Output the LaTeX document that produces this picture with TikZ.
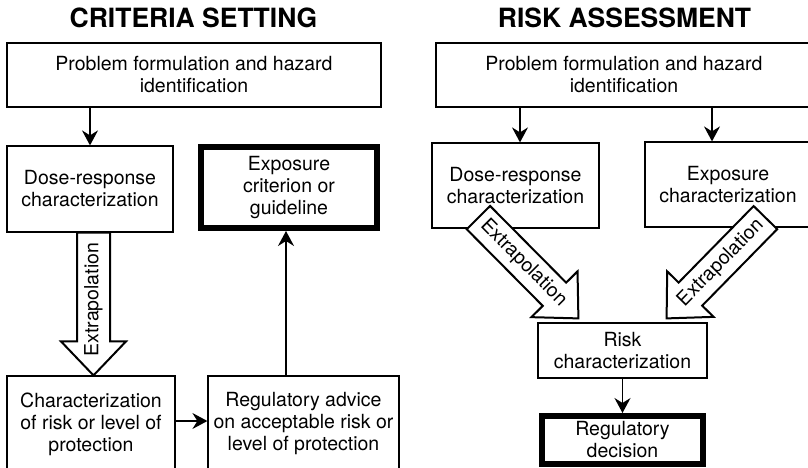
\documentclass[tikz,border=0pt]{standalone}
\usepackage{fontspec}
\setmainfont{TeX Gyre Heros}
\usetikzlibrary{arrows.meta,calc}

\tikzset{
  box/.style={draw, line width=1.2pt, align=center, inner sep=0pt,
              font=\fontsize{19.5}{22}\selectfont},
  keybox/.style={box, line width=6pt},
  heading/.style={font=\bfseries\fontsize{26.5}{30}\selectfont, anchor=base},
  flow/.style={-{Stealth[length=15pt,width=16pt,inset=5pt]}, line width=1.5pt},
  fatarrow/.style={draw, fill=white, line width=2pt, line join=miter},
  fatlabel/.style={font=\fontsize{19.5}{22}\selectfont, inner sep=0pt},
}

% Hollow block arrow from #1 (tail) to #2 (tip); #3 = options of its label
\newcommand\hollowarrow[3]{%
  \coordinate (ha-base) at ($(#2)!34pt!(#1)$);
  \filldraw[fatarrow]
    ($(#1)!16.5pt!90:(#2)$) -- ($(ha-base)!16.5pt!90:(#2)$)
    -- ($(ha-base)!32.5pt!90:(#2)$) -- (#2)
    -- ($(ha-base)!32.5pt!-90:(#2)$) -- ($(ha-base)!16.5pt!-90:(#2)$)
    -- ($(#1)!16.5pt!-90:(#2)$) -- cycle;
  \path (#1) -- (#2) node[fatlabel, #3] {Extrapolation};
}

\begin{document}
\begin{tikzpicture}[x=1pt,y=-1pt]
\useasboundingbox (0,0) rectangle (808,468);
\clip (0,0) rectangle (808,468);

% ---------------- Criteria setting ----------------
\node[heading] (titleL) at (193.5,28) {CRITERIA SETTING};

\node[box, minimum width=374pt, minimum height=64pt] (ltop) at (194,75)
  {Problem formulation and hazard\\identification};
\node[box, minimum width=166pt, minimum height=86pt] (ldose) at (90,189)
  {Dose-response\\characterization};
\node[keybox, minimum width=176pt, minimum height=81pt] (lexpo) at (289,187.5)
  {Exposure\\criterion or\\guideline};
\node[box, minimum width=168pt, minimum height=96pt] (lchar) at (91,424)
  {Characterization\\of risk or level of\\protection};
\node[box, minimum width=191pt, minimum height=96pt] (ladv) at (303.5,424)
  {Regulatory advice\\on acceptable risk or\\level of protection};

\draw[flow] (ldose.north |- ltop.south) -- (ldose.north);

\coordinate (lfatA) at ([xshift=3.5pt]ldose.south);
\coordinate (lfatB) at (lfatA |- lchar.north);
\hollowarrow{lfatA}{lfatB}{pos=.47, rotate=90}

\coordinate (ladvA) at ([yshift=3pt]lchar.east);
\draw[flow] (ladvA) -- (ladvA -| ladv.west);

\coordinate (lupB) at ([xshift=-3pt]lexpo.south);
\draw[flow] (lupB |- ladv.north) -- (lupB);

% ---------------- Risk assessment ----------------
\node[heading] (titleR) at (624.5,28) {RISK ASSESSMENT};

\node[box, minimum width=376pt, minimum height=64pt] (rtop) at (624,75)
  {Problem formulation and hazard\\identification};
\node[box, minimum width=167pt, minimum height=85pt] (rdose) at (515.5,185.5)
  {Dose-response\\characterization};
\node[box, minimum width=166pt, minimum height=85pt] (rexp) at (728,184.5)
  {Exposure\\characterization};
\node[box, minimum width=169pt, minimum height=55pt] (rrisk) at (622.5,350.5)
  {Risk\\characterization};
\node[keybox, minimum width=161pt, minimum height=48pt] (rdec) at (622.5,440)
  {Regulatory\\decision};

\coordinate (rdoseIn) at ([xshift=4.5pt]rdose.north);
\draw[flow] (rdoseIn |- rtop.south) -- (rdoseIn);
\coordinate (rexpIn) at ([xshift=-16pt]rexp.north);
\draw[flow] (rexpIn |- rtop.south) -- (rexpIn);
\draw[flow] (rrisk.south) -- (rdec.north);

\coordinate (rfatA) at ($(rdose.south west)+(47,-11)$);
\coordinate (rfatB) at ($(rrisk.north west)+(41,-4)$);
\hollowarrow{rfatA}{rfatB}{pos=.45, sloped}

\coordinate (rfatC) at ($(rexp.south west)+(121,-10)$);
\coordinate (rfatD) at ($(rrisk.north east)+(-41,-4)$);
\hollowarrow{rfatC}{rfatD}{pos=.45, sloped}

\end{tikzpicture}
\end{document}
